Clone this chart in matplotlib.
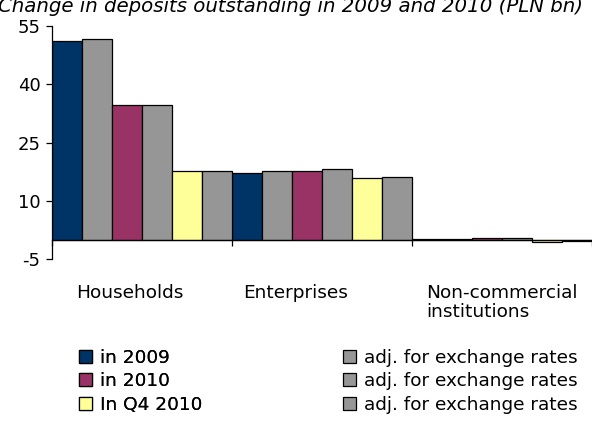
import matplotlib
matplotlib.use("Agg")
import matplotlib.pyplot as plt
import numpy as np

# data (PLN bn)
categories = ["Households", "Enterprises", "Non-commercial\ninstitutions"]
series_names = ["in 2009", "adj. for exchange rates",
                "in 2010", "adj. for exchange rates",
                "In Q4 2010", "adj. for exchange rates"]
in_2009 = [51.2, 17.1, 0.1]
in_2009_adj = [51.6, 17.6, 0.1]
in_2010 = [34.6, 17.6, 0.6]
in_2010_adj = [34.6, 18.1, 0.6]
q4_2010 = [17.6, 16.0, -0.5]
q4_2010_adj = [17.6, 16.1, -0.4]
yticks = [-5, 10, 25, 40, 55]

series = [in_2009, in_2009_adj, in_2010, in_2010_adj, q4_2010, q4_2010_adj]
colors = ["#003366", "#969696", "#993366", "#969696", "#FFFF99", "#969696"]

plt.rcParams["font.family"] = "DejaVu Sans"
plt.rcParams["font.size"] = 12
plt.rcParams["axes.unicode_minus"] = False

fig = plt.figure(figsize=(5.92, 4.23), dpi=100)
ax = fig.add_axes([52.3 / 592, 1 - 259.3 / 423, 1 - 52.3 / 592, (259.3 - 26) / 423])

x = np.arange(len(categories))
w = 1 / 6
bars = []
for k, (vals, col) in enumerate(zip(series, colors)):
    b = ax.bar(x - 0.5 + w / 2 + k * w, vals, width=w, color=col,
               edgecolor="black", linewidth=0.9, zorder=2)
    bars.append(b)

ax.set_xlim(-0.5, 2.5)
ax.set_ylim(-5, 55)
ax.set_yticks(yticks)
ax.spines["top"].set_visible(False)
ax.spines["right"].set_visible(False)
ax.spines["bottom"].set_position(("data", 0))
ax.spines["left"].set_linewidth(0.9)
ax.spines["bottom"].set_linewidth(0.9)
ax.set_xticks([-0.5, 0.5, 1.5, 2.5])
ax.set_xticklabels([])
ax.tick_params(axis="both", direction="out", length=4, width=0.9)
ax.tick_params(axis="y", pad=4.5, labelsize=13)

# category labels below the plot
label_x = [-0.07, 0.85, 2.0]
for lx, lab in zip(label_x, categories):
    ax.text(lx, -11.3, lab, ha="center", va="top", multialignment="left",
            fontsize=13.3, linespacing=1.1)

fig.text(-0.004, 1 - 12 / 423, "Change in deposits outstanding in 2009 and 2010 (PLN bn)",
         fontsize=14.2, style="italic", ha="left", va="baseline")

# two legend columns
leg_kw = dict(loc="upper left", frameon=False, handlelength=0.7, handleheight=0.7,
              handletextpad=0.45, labelspacing=0.28, borderpad=0, fontsize=13.3)
leg1 = fig.legend([bars[0], bars[2], bars[4]],
                  [series_names[0], series_names[2], series_names[4]],
                  bbox_to_anchor=(70 / 592, 1 - 340 / 423), **leg_kw)
leg2 = fig.legend([bars[1], bars[3], bars[5]],
                  [series_names[1], series_names[3], series_names[5]],
                  bbox_to_anchor=(334 / 592, 1 - 340 / 423), **leg_kw)
fig.add_artist(leg1)

fig.savefig("out.png", dpi=100)
